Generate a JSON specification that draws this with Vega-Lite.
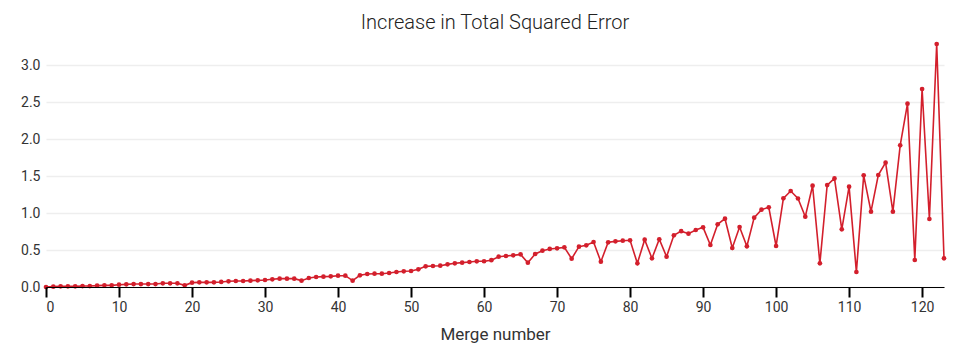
{
  "$schema": "https://vega.github.io/schema/vega-lite/v6.json",
  "width": 898,
  "height": 243,
  "autosize": {"type": "none"},
  "padding": {"left": 46, "top": 44, "right": 15, "bottom": 65},
  "background": "white",
  "title": {"text": "Increase in Total Squared Error", "font": "Roboto", "fontSize": 20, "fontWeight": 300, "color": "#222", "anchor": "middle", "offset": 8},
  "config": {"view": {"stroke": null}},
  "data": {"values": [
    {"m":0,"e":0.0},
    {"m":1,"e":0.005},{"m":2,"e":0.009},{"m":3,"e":0.009},{"m":4,"e":0.009},{"m":5,"e":0.013},
    {"m":6,"e":0.013},{"m":7,"e":0.018},{"m":8,"e":0.022},{"m":9,"e":0.022},{"m":10,"e":0.031},
    {"m":11,"e":0.036},{"m":12,"e":0.04},{"m":13,"e":0.04},{"m":14,"e":0.04},{"m":15,"e":0.04},
    {"m":16,"e":0.05},{"m":17,"e":0.05},{"m":18,"e":0.05},{"m":19,"e":0.022},{"m":20,"e":0.059},
    {"m":21,"e":0.063},{"m":22,"e":0.063},{"m":23,"e":0.063},{"m":24,"e":0.068},{"m":25,"e":0.077},
    {"m":26,"e":0.081},{"m":27,"e":0.081},{"m":28,"e":0.086},{"m":29,"e":0.09},{"m":30,"e":0.095},
    {"m":31,"e":0.104},{"m":32,"e":0.113},{"m":33,"e":0.113},{"m":34,"e":0.113},{"m":35,"e":0.086},
    {"m":36,"e":0.122},{"m":37,"e":0.135},{"m":38,"e":0.14},{"m":39,"e":0.144},{"m":40,"e":0.153},
    {"m":41,"e":0.153},{"m":42,"e":0.086},{"m":43,"e":0.158},{"m":44,"e":0.176},{"m":45,"e":0.18},
    {"m":46,"e":0.18},{"m":47,"e":0.189},{"m":48,"e":0.203},{"m":49,"e":0.212},{"m":50,"e":0.216},
    {"m":51,"e":0.239},{"m":52,"e":0.279},{"m":53,"e":0.284},{"m":54,"e":0.288},{"m":55,"e":0.306},
    {"m":56,"e":0.32},{"m":57,"e":0.329},{"m":58,"e":0.338},{"m":59,"e":0.347},{"m":60,"e":0.348},
    {"m":61,"e":0.362},{"m":62,"e":0.41},{"m":63,"e":0.419},{"m":64,"e":0.428},{"m":65,"e":0.441},
    {"m":66,"e":0.329},{"m":67,"e":0.446},{"m":68,"e":0.491},{"m":69,"e":0.514},{"m":70,"e":0.523},
    {"m":71,"e":0.536},{"m":72,"e":0.383},{"m":73,"e":0.545},{"m":74,"e":0.563},{"m":75,"e":0.608},
    {"m":76,"e":0.342},{"m":77,"e":0.604},{"m":78,"e":0.617},{"m":79,"e":0.626},{"m":80,"e":0.631},
    {"m":81,"e":0.32},{"m":82,"e":0.64},{"m":83,"e":0.387},{"m":84,"e":0.645},{"m":85,"e":0.41},
    {"m":86,"e":0.698},{"m":87,"e":0.755},{"m":88,"e":0.721},{"m":89,"e":0.77},{"m":90,"e":0.806},
    {"m":91,"e":0.568},{"m":92,"e":0.847},{"m":93,"e":0.923},{"m":94,"e":0.527},{"m":95,"e":0.811},
    {"m":96,"e":0.55},{"m":97,"e":0.937},{"m":98,"e":1.045},{"m":99,"e":1.077},{"m":100,"e":0.554},
    {"m":101,"e":1.198},{"m":102,"e":1.297},{"m":103,"e":1.196},{"m":104,"e":0.95},{"m":105,"e":1.369},
    {"m":106,"e":0.32},{"m":107,"e":1.378},{"m":108,"e":1.468},{"m":109,"e":0.779},{"m":110,"e":1.356},
    {"m":111,"e":0.203},{"m":112,"e":1.509},{"m":113,"e":1.018},{"m":114,"e":1.514},{"m":115,"e":1.68},
    {"m":116,"e":1.018},{"m":117,"e":1.914},{"m":118,"e":2.477},{"m":119,"e":0.365},{"m":120,"e":2.676},
    {"m":121,"e":0.919},{"m":122,"e":3.284},{"m":123,"e":0.387}
  ]},
  "mark": {"type": "line", "color": "#d31f2c", "strokeWidth": 1.6, "point": {"filled": true, "size": 22, "color": "#d31f2c"}},
  "encoding": {
    "x": {"field": "m", "type": "quantitative", "title": "Merge number",
      "scale": {"domain": [0, 123], "nice": false, "zero": true},
      "axis": {"values": [0,10,20,30,40,50,60,70,80,90,100,110,120], "grid": false, "zindex": 1,
        "domainColor": "#000", "domainWidth": 1, "tickColor": "#000", "tickWidth": 2, "tickSize": 10,
        "labelFont": "Roboto", "labelFontSize": 14, "labelColor": "#333", "labelPadding": 3,
        "titleFont": "Roboto", "titleFontSize": 17, "titleFontWeight": 400, "titleColor": "#333", "titlePadding": 12}},
    "y": {"field": "e", "type": "quantitative", "title": null,
      "scale": {"domain": [0, 3.284], "nice": false},
      "axis": {"values": [0,0.5,1,1.5,2,2.5,3], "format": ".1f", "domain": false, "ticks": false,
        "gridColor": "#eeeeee", "gridWidth": 1.5,
        "labelFont": "Roboto", "labelFontSize": 14, "labelColor": "#333", "labelPadding": 6}}
  }
}
